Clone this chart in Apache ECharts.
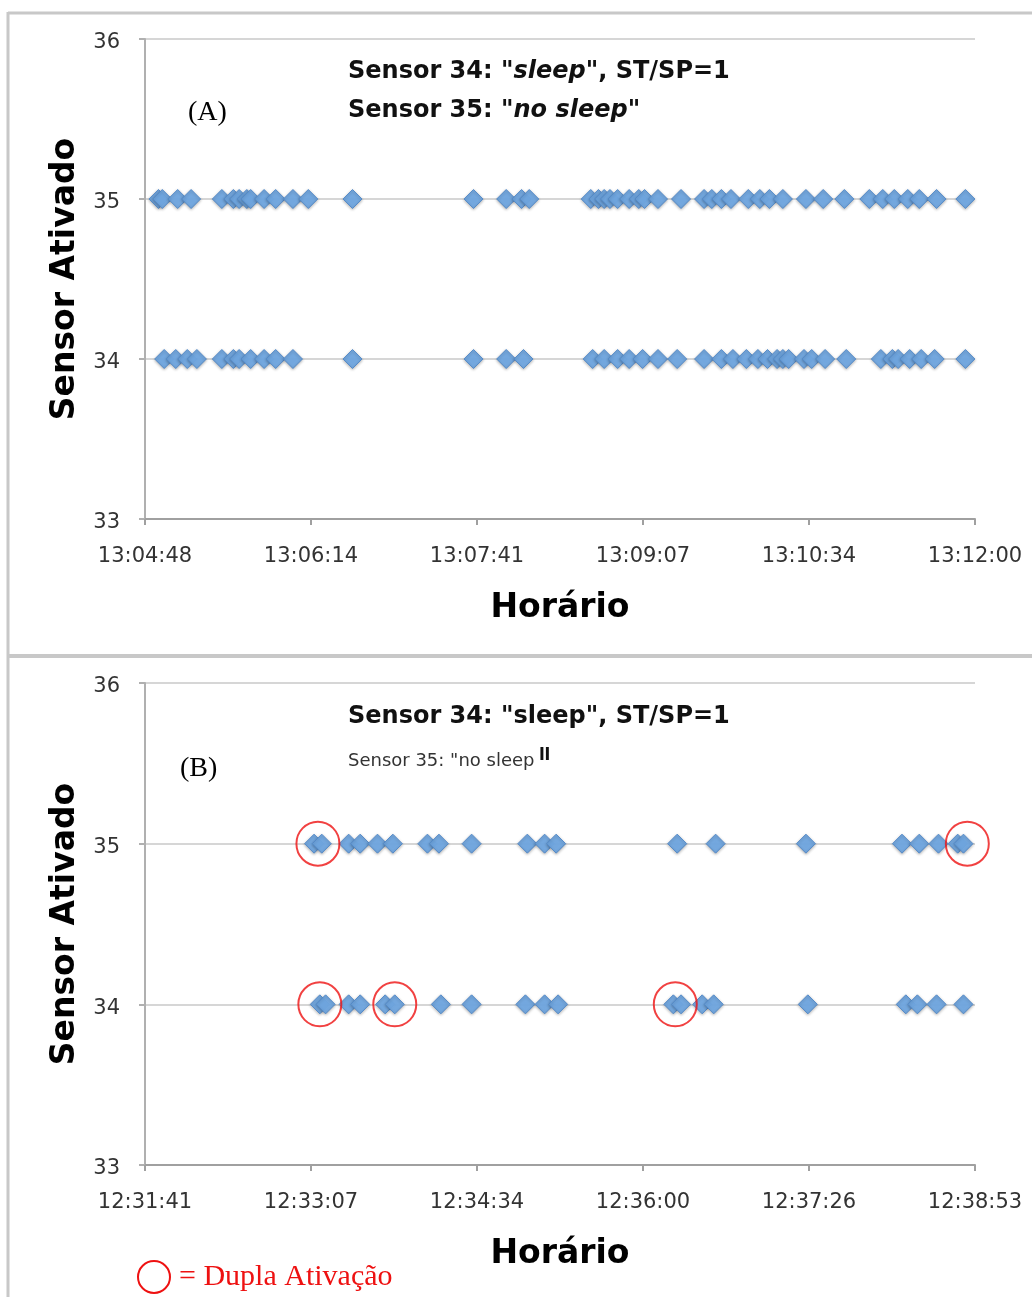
<!DOCTYPE html>
<html>
<head>
<meta charset="utf-8">
<script src="https://cdn.jsdelivr.net/npm/echarts@6/dist/echarts.min.js"></script>
<style>
html,body{margin:0;padding:0;background:#fff;}
#chart{width:1032px;height:1297px;}
</style>
</head>
<body>
<div id="chart"></div>
<script>
// ---------- DATA ----------
const tickLabelsA = ['13:04:48','13:06:14','13:07:41','13:09:07','13:10:34','13:12:00'];
const tickLabelsB = ['12:31:41','12:33:07','12:34:34','12:36:00','12:37:26','12:38:53'];
const yTicks = [33, 34, 35, 36];

// Panel A: activation times
const sensor35A = ['13:04:55','13:04:57','13:05:05','13:05:12','13:05:28','13:05:34','13:05:37','13:05:41','13:05:43',
  '13:05:50','13:05:56','13:06:05','13:06:13','13:06:36','13:07:39','13:07:56','13:08:04','13:08:08',
  '13:08:40','13:08:44','13:08:47','13:08:50','13:08:54','13:09:00','13:09:05','13:09:08','13:09:15',
  '13:09:27','13:09:39','13:09:43','13:09:48','13:09:53','13:10:02','13:10:08','13:10:13','13:10:20',
  '13:10:32','13:10:41','13:10:52','13:11:05','13:11:12','13:11:18','13:11:25','13:11:31','13:11:40','13:11:55'];
const sensor34A = ['13:04:58','13:05:04','13:05:10','13:05:15','13:05:28','13:05:34','13:05:37','13:05:43','13:05:50',
  '13:05:56','13:06:05','13:06:36','13:07:39','13:07:56','13:08:05','13:08:41','13:08:47','13:08:54',
  '13:09:00','13:09:07','13:09:15','13:09:25','13:09:39','13:09:48','13:09:54','13:10:01','13:10:07',
  '13:10:12','13:10:17','13:10:20','13:10:23','13:10:31','13:10:35','13:10:42','13:10:53','13:11:11',
  '13:11:17','13:11:20','13:11:26','13:11:32','13:11:39','13:11:55'];

// Panel B: activation times
const sensor35B = ['12:33:09','12:33:13','12:33:27','12:33:33','12:33:42','12:33:50','12:34:08','12:34:14','12:34:31',
  '12:35:00','12:35:09','12:35:15','12:36:18','12:36:38','12:37:25','12:38:15','12:38:24','12:38:34',
  '12:38:44','12:38:47'];
const sensor34B = ['12:33:12','12:33:15','12:33:27','12:33:33','12:33:46','12:33:51','12:34:15','12:34:31','12:34:59',
  '12:35:09','12:35:16','12:36:16','12:36:20','12:36:31','12:36:37','12:37:26','12:38:17','12:38:23',
  '12:38:33','12:38:47'];

// Double activations (circled) in panel B
const duplaTimes   = ['12:33:11','12:38:49','12:33:12','12:33:51','12:36:17'];
const duplaSensors = [35, 35, 34, 34, 34];

// ---------- BUILD ----------
function toSec(s){ const p = s.split(':').map(Number); return p[0]*3600 + p[1]*60 + p[2]; }

const gridA = {left:145, width:830, top:39, height:480};
const gridB = {left:145, width:830, top:683, height:482};

const labelColor = '#333';
const blue = '#70a6e0';

function xAxisFor(idx, ticks){
  const base = toSec(ticks[0]);
  const max = toSec(ticks[ticks.length-1]) - base;
  const step = max/(ticks.length-1);
  return {
    type:'value', gridIndex:idx, min:0, max:max, interval:step,
    name:'Horário', nameLocation:'middle', nameGap:73,
    nameTextStyle:{fontFamily:'DejaVu Sans', fontWeight:'bold', fontSize:33, color:'#000'},
    axisLine:{show:true, lineStyle:{color:'#a0a0a0', width:2}},
    axisTick:{show:true, length:6, lineStyle:{color:'#a0a0a0', width:2}},
    splitLine:{show:false},
    axisLabel:{margin:27, fontFamily:'DejaVu Sans', fontSize:21, color:labelColor,
      showMinLabel:true, showMaxLabel:true,
      formatter:function(v){ return ticks[Math.round(v/step)] || ''; }}
  };
}
function yAxisFor(idx){
  return {
    type:'value', gridIndex:idx, min:yTicks[0], max:yTicks[yTicks.length-1], interval:1,
    name:'Sensor Ativado', nameLocation:'middle', nameGap:62,
    nameTextStyle:{fontFamily:'DejaVu Sans', fontWeight:'bold', fontSize:33, color:'#000'},
    axisLine:{show:true, lineStyle:{color:'#b0b0b0', width:2}},
    axisTick:{show:true, length:6, lineStyle:{color:'#b0b0b0', width:2}},
    splitLine:{show:true, lineStyle:{color:'#d6d6d6', width:2}},
    axisLabel:{margin:25, fontFamily:'DejaVu Sans', fontSize:21, color:labelColor,
      verticalAlign:'top', lineHeight:8}
  };
}
function pts(times, sensor, ticks){
  const base = toSec(ticks[0]);
  return times.map(t => [toSec(t)-base, sensor]);
}
function markerSeries(idx, data){
  return {
    type:'scatter', xAxisIndex:idx, yAxisIndex:idx, data:data,
    symbol:'diamond', symbolSize:[19,19], silent:true, animation:false,
    itemStyle:{color:blue, borderColor:'#5289c8', borderWidth:1, opacity:0.95,
      shadowBlur:3, shadowColor:'rgba(0,0,0,0.3)', shadowOffsetY:1}
  };
}

const duplaData = duplaTimes.map((t,i) => [toSec(t)-toSec(tickLabelsB[0]), duplaSensors[i]]);

const red = '#ee1111';
const titleFont = {fontFamily:'DejaVu Sans', fontWeight:'bold', fontSize:24, fill:'#111'};
const italicRich = {i:{fontFamily:'DejaVu Sans', fontWeight:'bold', fontStyle:'italic', fontSize:24, fill:'#111'}};

const option = {
  backgroundColor:'#ffffff',
  animation:false,
  grid:[gridA, gridB],
  xAxis:[xAxisFor(0, tickLabelsA), xAxisFor(1, tickLabelsB)],
  yAxis:[yAxisFor(0), yAxisFor(1)],
  series:[
    markerSeries(0, pts(sensor34A, 34, tickLabelsA)),
    markerSeries(0, pts(sensor35A, 35, tickLabelsA)),
    markerSeries(1, pts(sensor34B, 34, tickLabelsB)),
    markerSeries(1, pts(sensor35B, 35, tickLabelsB)),
    {
      type:'scatter', xAxisIndex:1, yAxisIndex:1, data:duplaData, z:5,
      symbol:'circle', symbolSize:[43,44], silent:true,
      itemStyle:{color:'rgba(0,0,0,0)', borderColor:red, borderWidth:2}
    }
  ],
  graphic:[
    // frame
    {type:'line', shape:{x1:8,y1:13,x2:1032,y2:13}, style:{stroke:'#c8c8c8', lineWidth:3}, silent:true},
    {type:'line', shape:{x1:8,y1:12,x2:8,y2:1297}, style:{stroke:'#c8c8c8', lineWidth:3}, silent:true},
    {type:'line', shape:{x1:8,y1:656,x2:1032,y2:656}, style:{stroke:'#c8c8c8', lineWidth:4}, silent:true},
    // panel A annotations
    {type:'text', left:348, top:60, style:Object.assign({text:'Sensor 34: "{i|sleep}", ST/SP=1', rich:italicRich}, titleFont)},
    {type:'text', left:348, top:99, style:Object.assign({text:'Sensor 35: "{i|no sleep}"', rich:italicRich}, titleFont)},
    {type:'text', left:188, top:99, style:{text:'(A)', fontFamily:'Liberation Serif', fontSize:28, fill:'#000'}},
    // panel B annotations
    {type:'text', left:348, top:705, style:Object.assign({text:'Sensor 34: "sleep", ST/SP=1'}, titleFont)},
    {type:'text', left:348, top:752, style:{text:'Sensor 35: "no sleep', fontFamily:'DejaVu Sans', fontSize:18, fill:'#333'}},
    {type:'text', left:538, top:746, scaleX:0.75, scaleY:1.4, style:{text:'"', fontFamily:'DejaVu Sans', fontWeight:'bold', fontSize:34, fill:'#111'}},
    {type:'text', left:180, top:755, style:{text:'(B)', fontFamily:'Liberation Serif', fontSize:28, fill:'#000'}},
    // legend for double activation
    {type:'circle', shape:{cx:154, cy:1277, r:16}, style:{fill:'none', stroke:red, lineWidth:2}, silent:true},
    {type:'text', left:179, top:1262, style:{text:'= Dupla Ativação', fontFamily:'Liberation Serif', fontSize:30, fill:red}}
  ]
};

const chart = echarts.init(document.getElementById('chart'), null, {renderer:'canvas'});
chart.setOption(option);
</script>
</body>
</html>
